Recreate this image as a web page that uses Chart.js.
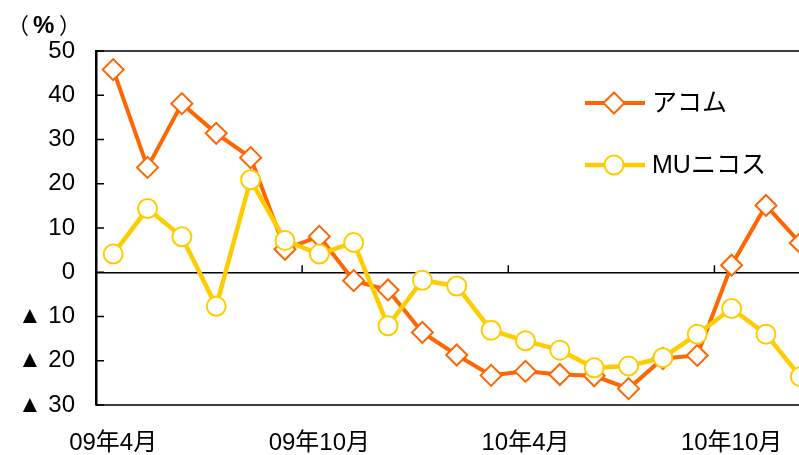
<!DOCTYPE html>
<html>
<head>
<meta charset="utf-8">
<script src="https://cdn.jsdelivr.net/npm/chart.js@4"></script>
<style>
  html, body { margin: 0; padding: 0; background: #fff; overflow: hidden; }
  #wrap { width: 830px; height: 455px; }
</style>
</head>
<body>
<div id="wrap"><canvas id="c" width="830" height="455"></canvas></div>
<script>
const categories = ["09年4月","09年5月","09年6月","09年7月","09年8月","09年9月","09年10月","09年11月","09年12月",
  "10年1月","10年2月","10年3月","10年4月","10年5月","10年6月","10年7月","10年8月","10年9月","10年10月","10年11月","10年12月"];
const acom = [45.8, 23.7, 38.1, 31.4, 25.9, 5.2, 8.1, -1.9, -4.0, -13.6, -18.7, -23.3, -22.4, -23.1, -23.4, -26.3, -19.5, -18.8, 1.6, 15.1, 6.6];
const muNicos = [4.1, 14.4, 8.0, -7.7, 20.9, 7.2, 4.1, 6.7, -12.1, -1.8, -3.1, -13.1, -15.5, -17.6, -21.6, -21.2, -19.3, -14.0, -8.2, -14.0, -23.6];
const seriesNames = ["アコム", "MUニコス"];
const yMin = -30, yMax = 50, yStep = 10;
const labelEvery = 6;
const unitParts = ["（", "%", "）"];

const FONT = '"Liberation Sans", Arial, "Noto Sans CJK JP", sans-serif';
const CJK = '"Noto Sans CJK JP", sans-serif';
const ORANGE = '#FF6600';
const YELLOW = '#FFCC00';

const decor = {
  id: 'decor',
  beforeDatasetsDraw(chart) {
    const ctx = chart.ctx, a = chart.chartArea;
    const x = chart.scales.x, y = chart.scales.y;
    ctx.save();
    ctx.strokeStyle = '#000';
    ctx.lineWidth = 1.5;
    ctx.beginPath();
    ctx.moveTo(a.left, a.top); ctx.lineTo(a.right, a.top);
    ctx.moveTo(a.left, a.bottom); ctx.lineTo(a.right, a.bottom);
    ctx.moveTo(a.right, a.top); ctx.lineTo(a.right, a.bottom);
    ctx.stroke();
    ctx.beginPath();
    y.ticks.forEach(t => {
      const py = y.getPixelForValue(t.value);
      ctx.moveTo(a.left, py); ctx.lineTo(a.left + 8, py);
    });
    ctx.stroke();
    const y0 = y.getPixelForValue(0);
    const half = (x.getPixelForValue(1) - x.getPixelForValue(0)) / 2;
    ctx.beginPath();
    for (let i = labelEvery; i < categories.length; i += labelEvery) {
      const px = x.getPixelForValue(i) - half;
      ctx.moveTo(px, y0); ctx.lineTo(px, y0 - 7);
    }
    ctx.stroke();
    ctx.restore();
  },
  afterDraw(chart) {
    const ctx = chart.ctx;
    ctx.save();
    ctx.fillStyle = '#000';
    ctx.textBaseline = 'middle';
    // unit label （%）
    ctx.font = '22px ' + CJK;
    ctx.textAlign = 'right';
    ctx.fillText(unitParts[0], 29, 25);
    ctx.font = 'bold 24px ' + FONT;
    ctx.textAlign = 'left';
    ctx.fillText(unitParts[1], 33, 26);
    ctx.font = '22px ' + CJK;
    ctx.textAlign = 'left';
    ctx.fillText(unitParts[2], 59, 25);
    // legend
    const entries = [
      { ds: chart.data.datasets[0], y: 103 },
      { ds: chart.data.datasets[1], y: 165 }
    ];
    entries.forEach(e => {
      const ds = e.ds;
      ctx.strokeStyle = ds.borderColor;
      ctx.lineWidth = ds.borderWidth;
      ctx.beginPath();
      ctx.moveTo(585, e.y); ctx.lineTo(645, e.y);
      ctx.stroke();
      ctx.fillStyle = ds.pointBackgroundColor;
      ctx.strokeStyle = ds.pointBorderColor;
      ctx.lineWidth = ds.pointBorderWidth;
      ctx.beginPath();
      const r = ds.pointRadius;
      if (ds.pointStyle === 'circle') {
        ctx.arc(614, e.y, r, 0, Math.PI * 2);
      } else {
        ctx.moveTo(614 - r, e.y); ctx.lineTo(614, e.y - r); ctx.lineTo(614 + r, e.y); ctx.lineTo(614, e.y + r); ctx.closePath();
      }
      ctx.fill(); ctx.stroke();
      ctx.fillStyle = '#000';
      ctx.font = '25px ' + FONT;
      ctx.textAlign = 'left';
      ctx.textBaseline = 'middle';
      ctx.fillText(ds.label, 652, e.y + 1);
    });
    ctx.restore();
  }
};

new Chart(document.getElementById('c'), {
  type: 'line',
  data: {
    labels: categories,
    datasets: [
      {
        label: seriesNames[0], data: acom, order: 1,
        borderColor: ORANGE, borderWidth: 4, tension: 0,
        pointStyle: 'rectRot', pointRadius: 10.5, pointBorderWidth: 2,
        pointBackgroundColor: '#fff', pointBorderColor: ORANGE
      },
      {
        label: seriesNames[1], data: muNicos, order: 0,
        borderColor: YELLOW, borderWidth: 4.5, tension: 0,
        pointStyle: 'circle', pointRadius: 9.5, pointBorderWidth: 2,
        pointBackgroundColor: '#fff', pointBorderColor: YELLOW
      }
    ]
  },
  options: {
    responsive: false,
    animation: false,
    devicePixelRatio: 1,
    layout: { padding: { top: 51, right: 11, left: 0, bottom: 0 } },
    plugins: { legend: { display: false }, tooltip: { enabled: false } },
    elements: { point: { hoverRadius: 10 } },
    scales: {
      x: {
        type: 'category',
        offset: true,
        grid: { display: false, drawTicks: false },
        border: { display: false },
        afterFit(s) { s.height = 50; },
        ticks: {
          autoSkip: false, maxRotation: 0, minRotation: 0,
          padding: 24, color: '#000',
          font: { family: FONT, size: 24 },
          callback(v, i) { return i % labelEvery === 0 ? categories[i] : ''; }
        }
      },
      y: {
        min: yMin, max: yMax,
        afterFit(s) { s.width = 96; },
        grid: {
          drawTicks: false,
          color: c => (c.tick && c.tick.value === 0) ? '#000' : 'rgba(0,0,0,0)',
          lineWidth: 1.5
        },
        border: { display: true, color: '#000', width: 2.5 },
        ticks: {
          stepSize: yStep, padding: 21, color: '#000',
          font: { family: FONT, size: 24 },
          callback(v) { return v < 0 ? '▲ ' + (-v) : String(v); }
        }
      }
    }
  },
  plugins: [decor]
});
</script>
</body>
</html>
